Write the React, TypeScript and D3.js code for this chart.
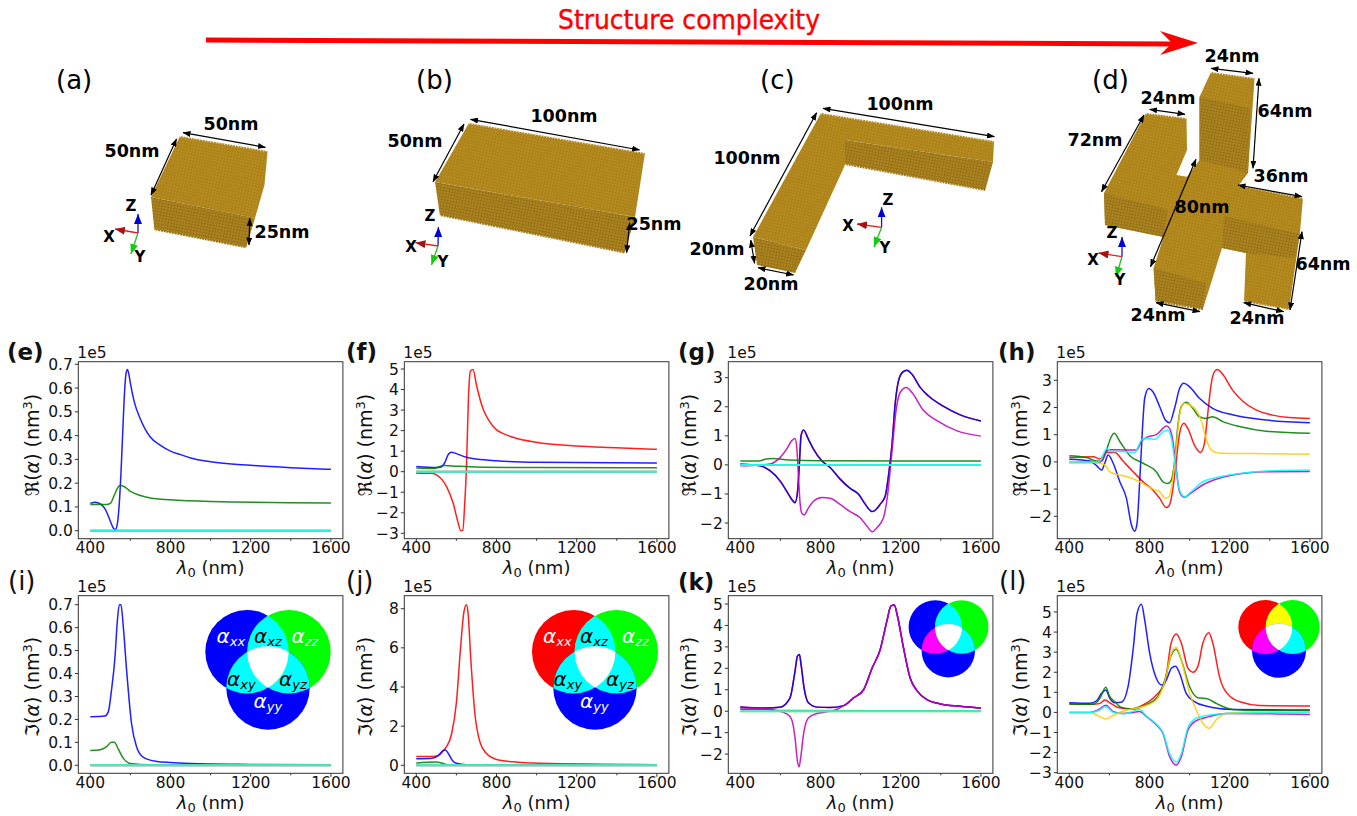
import React from "react";
import * as d3 from "d3";

type P = [number, number];
const FONT = "'DejaVu Sans', sans-serif";
const RED = "#ff0000", BLUE = "#0000ff", GREEN = "#008000", MAGENTA = "#c000c0", GOLD = "#ffcc00", CYAN = "#00ffff";

const flat: P[] = [[400, 0], [1600, 0]];
const xTicks = [400, 800, 1200, 1600];
const xMinor = [600, 1000, 1400];

// ---- (e)
const eBlue: P[] = [[400,.115],[425,.12],[450,.113],[475,.09],[500,.04],[515,.01],[525,.005],[535,.03],[545,.12],[555,.28],[565,.48],[572,.6],[578,.66],[585,.678],[592,.66],[600,.62],[620,.54],[648,.473],[698,.395],[748,.36],[800,.335],[850,.32],[900,.306],[1000,.29],[1200,.275],[1400,.265],[1600,.258]];
const eGreen: P[] = [[400,.11],[480,.11],[500,.115],[520,.15],[540,.185],[550,.19],[570,.185],[600,.165],[650,.148],[700,.138],[800,.13],[1000,.123],[1600,.117]];
// ---- (f)
const fRed: P[] = [[400,-.07],[480,-.08],[501,-.16],[551,-.73],[584,-1.54],[609,-2.5],[622,-2.87],[632,-2.84],[642,-1.46],[650,.16],[660,3.57],[670,4.9],[683,4.98],[700,4.22],[733,3.05],[760,2.52],[799,2.05],[840,1.83],[882,1.68],[998,1.43],[1197,1.25],[1396,1.17],[1600,1.09]];
const fBlue: P[] = [[400,.25],[500,.2],[520,.22],[540,.4],[560,.85],[575,.95],[600,.88],[650,.7],[700,.62],[800,.53],[1000,.46],[1600,.42]];
const fGreen: P[] = [[400,.18],[490,.16],[520,.27],[540,.3],[600,.27],[700,.23],[1000,.2],[1600,.19]];
// ---- (g)
const gBlue: P[] = [[400,.02],[498,-.03],[548,-.2],[598,-.55],[631,-.9],[656,-1.18],[673,-1.3],[685,-.95],[695,.08],[703,1.0],[715,1.2],[740,.88],[765,.54],[806,.14],[848,-.09],[898,-.49],[948,-.81],[990,-1.01],[1023,-1.35],[1056,-1.6],[1068,-1.58],[1098,-1.35],[1123,-1.07],[1139,-.38],[1156,.65],[1173,2.14],[1189,2.89],[1211,3.2],[1231,3.26],[1256,3.12],[1298,2.66],[1339,2.37],[1414,2.01],[1497,1.72],[1600,1.51]];
const gMagenta: P[] = [[400,-.03],[498,0],[548,.03],[598,.25],[631,.54],[656,.83],[673,.91],[681,.65],[690,-.38],[698,-1.3],[706,-1.65],[718,-1.72],[740,-1.48],[765,-1.25],[806,-1.12],[848,-1.15],[898,-1.36],[948,-1.61],[998,-1.82],[1031,-2.1],[1059,-2.3],[1081,-2.16],[1114,-1.82],[1134,-1.07],[1156,.43],[1178,1.93],[1198,2.5],[1228,2.66],[1256,2.49],[1314,1.87],[1381,1.52],[1481,1.17],[1600,.99]];
const gGreen: P[] = [[400,.13],[490,.13],[530,.2],[560,.22],[640,.17],[800,.14],[1600,.13]];
// ---- (h)
const hRed: P[] = [[400,.16],[519,.19],[553,.11],[586,.35],[627,.35],[668,.03],[718,-.36],[768,-.73],[817,-1.03],[851,-1.34],[884,-1.68],[900,-1.58],[917,-.97],[933,0],[950,1.05],[971,1.42],[991,1.23],[1024,.62],[1054,.35],[1074,.68],[1090,1.73],[1107,2.83],[1124,3.32],[1140,3.4],[1165,3.22],[1214,2.64],[1264,2.24],[1331,1.91],[1414,1.72],[1497,1.63],[1600,1.6]];
const hBlue: P[] = [[400,.1],[503,.03],[536,-.14],[561,-.3],[577,-.05],[594,.25],[619,-.05],[652,-.73],[685,-1.34],[710,-2.32],[726,-2.55],[738,-2.26],[751,-.73],[765,1.24],[776,2.34],[796,2.7],[817,2.58],[851,2.03],[879,1.54],[900,1.44],[925,1.97],[950,2.7],[971,2.89],[999,2.77],[1049,2.34],[1115,1.97],[1214,1.73],[1381,1.54],[1600,1.44]];
const hGreen: P[] = [[400,.23],[486,.16],[536,.03],[561,.03],[586,.44],[606,.87],[624,1.05],[652,.75],[702,.23],[768,-.05],[834,-.36],[867,-.73],[892,-.79],[909,-.67],[925,0],[942,1.36],[958,2.03],[983,2.19],[1016,1.97],[1049,1.66],[1082,1.6],[1115,1.66],[1165,1.48],[1248,1.3],[1381,1.13],[1600,1.05]];
const hGold: P[] = [[400,-.02],[519,-.02],[553,-.05],[577,-.11],[602,-.36],[627,-.44],[685,-.54],[751,-.73],[817,-1],[851,-1.1],[879,-1.34],[897,-1.28],[914,-.73],[933,.5],[950,1.73],[971,2.16],[999,2.1],[1032,1.91],[1057,1.54],[1082,.87],[1107,.44],[1148,.32],[1381,.3],[1600,.28]];
const hMagenta: P[] = [[400,-.02],[545,-.02],[565,.07],[586,.4],[611,.45],[668,.44],[735,.44],[760,.75],[785,.9],[834,1.0],[867,1.23],[884,1.32],[900,1.23],[917,.75],[933,-.24],[950,-1.1],[975,-1.3],[1007,-1.15],[1065,-.85],[1131,-.64],[1214,-.48],[1381,-.36],[1600,-.35]];
const hCyan: P[] = [[400,0],[530,0],[553,.03],[586,.48],[611,.38],[668,.38],[726,.35],[760,.8],[785,.87],[826,.83],[867,1.11],[889,1.17],[909,.87],[933,-.36],[950,-1.04],[975,-1.28],[1007,-1.1],[1065,-.73],[1131,-.58],[1214,-.46],[1381,-.33],[1600,-.3]];
// ---- (i)
const iBlue: P[] = [[400,.212],[473,.215],[490,.234],[506,.33],[523,.47],[535,.63],[545,.7],[553,.7],[565,.6],[581,.415],[606,.18],[631,.08],[665,.035],[731,.017],[798,.012],[900,.008],[1200,.004],[1600,.002]];
const iGreen: P[] = [[400,.065],[450,.068],[480,.08],[505,.1],[520,.1],[540,.07],[565,.03],[600,.008],[700,.002],[1600,0]];
// ---- (j)
const jRed: P[] = [[400,.45],[480,.45],[510,.5],[535,.75],[551,.95],[576,1.6],[600,3.2],[620,5.9],[637,7.8],[650,8.2],[658,7.8],[672,5.4],[692,2.66],[717,1.2],[750,.6],[800,.3],[882,.18],[1015,.1],[1600,.03]];
const jBlue: P[] = [[400,.33],[480,.36],[510,.5],[530,.72],[545,.78],[560,.6],[580,.25],[600,.1],[650,.03],[1600,.01]];
const jGreen: P[] = [[400,.12],[500,.17],[530,.1],[560,.02],[1600,0]];
// ---- (k)
const kBlue: P[] = [[400,.2],[531,.15],[598,.18],[648,.62],[673,1.87],[685,2.57],[695,2.65],[703,2.18],[718,1.09],[740,.39],[782,.19],[848,.17],[915,.26],[965,.62],[1015,1.0],[1057,2.0],[1098,2.88],[1131,4.2],[1151,4.9],[1168,4.95],[1184,4.43],[1214,2.95],[1247,1.55],[1281,.96],[1331,.54],[1397,.34],[1497,.23],[1600,.14]];
const kMagenta: P[] = [[400,.15],[531,.12],[581,.03],[631,-.12],[656,-.39],[673,-1.24],[685,-2.33],[693,-2.6],[701,-2.18],[715,-1.09],[740,-.31],[782,-.11],[832,-.03],[881,.08],[931,.36],[965,.62],[1015,1.0],[1057,2.0],[1098,2.88],[1131,4.2],[1151,4.9],[1168,4.95],[1184,4.43],[1214,2.95],[1247,1.55],[1281,.96],[1331,.54],[1397,.34],[1497,.23],[1600,.14]];
const kGreen: P[] = [[400,.08],[500,.08],[600,.03],[1600,.02]];
// ---- (l)
const lRed: P[] = [[400,.42],[519,.4],[553,.45],[577,.62],[611,.42],[644,.24],[702,.17],[768,.37],[834,.87],[876,1.45],[909,3.5],[934,3.9],[959,3.44],[992,2.2],[1017,2.0],[1041,2.28],[1066,3.44],[1096,3.97],[1116,3.44],[1149,1.78],[1199,.82],[1265,.49],[1348,.34],[1600,.32]];
const lBlue: P[] = [[400,.48],[503,.45],[536,.58],[561,.95],[582,1.11],[602,.7],[627,.48],[660,.5],[693,1.28],[718,3.1],[738,4.93],[760,5.38],[776,4.6],[801,2.94],[834,1.7],[862,1.36],[884,1.61],[909,2.2],[930,2.3],[950,1.95],[983,.95],[1024,.54],[1082,.32],[1214,.15],[1600,.12]];
const lGreen: P[] = [[400,.42],[519,.4],[553,.7],[582,1.25],[602,.78],[627,.54],[660,.25],[718,.17],[768,.32],[834,.7],[876,1.6],[909,2.86],[934,3.14],[959,2.6],[1000,1.28],[1041,.73],[1091,.67],[1132,.45],[1215,.15],[1381,.09],[1600,.09]];
const lGold: P[] = [[400,0],[503,0],[536,-.13],[582,-.33],[619,-.16],[644,-.03],[702,.15],[768,.29],[834,.62],[876,1.53],[909,2.94],[934,3.24],[959,2.6],[1000,.95],[1033,.12],[1066,-.54],[1099,-.79],[1132,-.38],[1182,-.05],[1248,0],[1600,.03]];
const lMagenta: P[] = [[400,0],[503,0],[544,.12],[582,.35],[619,.04],[668,-.05],[718,0],[751,.04],[784,-.2],[834,-.62],[867,-1.04],[900,-2.2],[934,-2.62],[959,-2.2],[992,-.87],[1033,-.41],[1099,-.21],[1182,-.05],[1600,-.1]];
const lCyan: P[] = [[400,0],[503,0],[544,.08],[582,.29],[619,.0],[668,-.07],[718,.05],[751,.15],[784,-.18],[834,-.58],[867,-1.0],[900,-2.05],[934,-2.48],[959,-2.05],[992,-.75],[1033,-.29],[1099,-.13],[1182,-.05],[1600,-.01]];

type S = { c: string; d: P[] };
type Panel = {
  tag: string; bold: boolean; tagX: number; left: number; row: 0 | 1; yLabelX: number;
  y0: [number, number]; y1: [number, number]; yTicks: number[]; fmt: (v: number) => string; series: S[];
};

const f1 = (v: number) => d3.format(".1f")(v);
const f0 = (v: number) => String(v);

const panels: Panel[] = [
  { tag: "(e)", bold: true, tagX: 7, left: 78.3, row: 0, yLabelX: 39, y0: [0, 530.7], y1: [.7, 364.3], yTicks: [0,.1,.2,.3,.4,.5,.6,.7], fmt: f1,
    series: [{c:BLUE,d:eBlue},{c:GREEN,d:eGreen},{c:MAGENTA,d:flat},{c:GOLD,d:flat},{c:CYAN,d:flat}] },
  { tag: "(f)", bold: true, tagX: 346, left: 404.3, row: 0, yLabelX: 372, y0: [0, 471.7], y1: [5, 369], yTicks: [-3,-2,-1,0,1,2,3,4,5], fmt: f0,
    series: [{c:RED,d:fRed},{c:BLUE,d:fBlue},{c:GREEN,d:fGreen},{c:MAGENTA,d:flat},{c:GOLD,d:flat},{c:CYAN,d:flat}] },
  { tag: "(g)", bold: true, tagX: 678, left: 728.3, row: 0, yLabelX: 696, y0: [0, 464.9], y1: [3, 377.7], yTicks: [-2,-1,0,1,2,3], fmt: f0,
    series: [{c:RED,d:gBlue},{c:BLUE,d:gBlue},{c:GREEN,d:gGreen},{c:MAGENTA,d:gMagenta},{c:GOLD,d:flat},{c:CYAN,d:flat}] },
  { tag: "(h)", bold: true, tagX: 998, left: 1057.3, row: 0, yLabelX: 1027, y0: [0, 461.9], y1: [3, 380.3], yTicks: [-2,-1,0,1,2,3], fmt: f0,
    series: [{c:RED,d:hRed},{c:BLUE,d:hBlue},{c:GREEN,d:hGreen},{c:MAGENTA,d:hMagenta},{c:GOLD,d:hGold},{c:CYAN,d:hCyan}] },
  { tag: "(i)", bold: false, tagX: 8, left: 78.3, row: 1, yLabelX: 39, y0: [0, 765.3], y1: [.7, 604.7], yTicks: [0,.1,.2,.3,.4,.5,.6,.7], fmt: f1,
    series: [{c:BLUE,d:iBlue},{c:GREEN,d:iGreen},{c:MAGENTA,d:flat},{c:GOLD,d:flat},{c:CYAN,d:flat}] },
  { tag: "(j)", bold: false, tagX: 346, left: 404.3, row: 1, yLabelX: 372, y0: [0, 765.3], y1: [8, 608.7], yTicks: [0,2,4,6,8], fmt: f0,
    series: [{c:RED,d:jRed},{c:BLUE,d:jBlue},{c:GREEN,d:jGreen},{c:MAGENTA,d:flat},{c:GOLD,d:flat},{c:CYAN,d:flat}] },
  { tag: "(k)", bold: true, tagX: 678, left: 728.3, row: 1, yLabelX: 696, y0: [0, 711.2], y1: [5, 604], yTicks: [-2,-1,0,1,2,3,4,5], fmt: f0,
    series: [{c:RED,d:kBlue},{c:BLUE,d:kBlue},{c:GREEN,d:kGreen},{c:MAGENTA,d:kMagenta},{c:GOLD,d:flat},{c:CYAN,d:flat}] },
  { tag: "(l)", bold: false, tagX: 999, left: 1057.3, row: 1, yLabelX: 1027, y0: [0, 712.4], y1: [5, 612], yTicks: [-3,-2,-1,0,1,2,3,4,5], fmt: f0,
    series: [{c:RED,d:lRed},{c:BLUE,d:lBlue},{c:GREEN,d:lGreen},{c:MAGENTA,d:lMagenta},{c:GOLD,d:lGold},{c:CYAN,d:lCyan}] },
];

const ROWS = [{ top: 361.7, bottom: 538.7 }, { top: 595.7, bottom: 773.3 }];
const ROW_TEXT = [
  { tagY: 360, tick: 553, xlab: 574, ylab: 445 },
  { tagY: 590, tick: 788, xlab: 808.5, ylab: 687 },
];
const W = 264.6;
const TICK = 15.5;

function Axes({ p }: { p: Panel }) {
  const { top, bottom } = ROWS[p.row];
  const t = ROW_TEXT[p.row];
  const x = d3.scaleLinear().domain([400, 1600]).range([p.left + 12, p.left + W - 12]);
  const y = d3.scaleLinear().domain([p.y0[0], p.y1[0]]).range([p.y0[1], p.y1[1]]);
  const line = d3.line<P>().x(d => x(d[0])).y(d => y(d[1])).curve(d3.curveMonotoneX);
  const cx = p.left + W / 2;
  const fn = p.row === 0 ? "\u211C" : "\u2111";
  return (
    <g fontFamily={FONT} fill="#111">
      <text x={p.tagX} y={t.tagY} fontSize={p.bold ? 23 : 26} fontWeight={p.bold ? 700 : 400}>{p.tag}</text>
      <text x={p.left - 1} y={top - 3.5} fontSize={TICK}>1e5</text>
      <rect x={p.left} y={top} width={W} height={bottom - top} fill="none" stroke="#333" strokeWidth={1} />
      {p.series.map((s, i) => (
        <path key={i} d={line(s.d) || ""} fill="none" stroke={s.c} strokeWidth={s.d === flat ? 2 : 1.5} strokeOpacity={0.88} strokeLinejoin="round" />
      ))}
      {xTicks.map(v => (
        <g key={v}>
          <line x1={x(v)} x2={x(v)} y1={bottom} y2={bottom + 3.5} stroke="#333" />
          <text x={x(v)} y={t.tick} textAnchor="middle" fontSize={TICK}>{v}</text>
        </g>
      ))}
      {xMinor.map(v => <line key={v} x1={x(v)} x2={x(v)} y1={bottom} y2={bottom + 2} stroke="#333" />)}
      {p.yTicks.map(v => (
        <g key={v}>
          <line x1={p.left - 3.5} x2={p.left} y1={y(v)} y2={y(v)} stroke="#333" />
          <text x={p.left - 5.5} y={y(v) + 5.5} textAnchor="end" fontSize={TICK}>
            {v < 0 ? "\u2212" + p.fmt(-v) : p.fmt(v)}
          </text>
        </g>
      ))}
      <text x={cx} y={t.xlab} textAnchor="middle" fontSize={18}>
        <tspan fontStyle="italic">{"\u03BB"}</tspan>
        <tspan fontSize={13} dy={3}>0</tspan>
        <tspan dy={-3}> (nm)</tspan>
      </text>
      <text transform={`translate(${p.yLabelX},${t.ylab}) rotate(-90)`} textAnchor="middle" fontSize={19}>
        {fn}(<tspan fontStyle="italic">{"\u03B1"}</tspan>) (nm<tspan fontSize={13} dy={-7}>3</tspan><tspan dy={7}>)</tspan>
      </text>
    </g>
  );
}

// ---- Venn insets
type Venn = { id: string; a: P; b: P; c: P; r: number; colors: string[]; labels?: { s: string; x: number; y: number; c: string }[] };
const venns: Venn[] = [
  { id: "vi", a: [247, 651.7], b: [289, 651.7], c: [268, 688], r: 41.7, colors: ["#0000ff", "#00ff00", "#0000ff", "#00ffff", "#00ffff", "#00ffff"],
    labels: [{ s: "xx", x: 216.5, y: 643, c: "#fff" }, { s: "xz", x: 254, y: 643, c: "#000" }, { s: "zz", x: 291.5, y: 643, c: "#fff" },
             { s: "xy", x: 227, y: 685.5, c: "#000" }, { s: "yz", x: 279, y: 685.5, c: "#000" }, { s: "yy", x: 253.5, y: 708, c: "#fff" }] },
  { id: "vj", a: [573.7, 651.7], b: [616.3, 651.7], c: [595, 688], r: 41.7, colors: ["#ff0000", "#00ff00", "#0000ff", "#00ffff", "#00ffff", "#00ffff"],
    labels: [{ s: "xx", x: 543, y: 643, c: "#fff" }, { s: "xz", x: 580, y: 643, c: "#000" }, { s: "zz", x: 622, y: 643, c: "#fff" },
             { s: "xy", x: 553.5, y: 685.5, c: "#000" }, { s: "yz", x: 606, y: 685.5, c: "#000" }, { s: "yy", x: 580, y: 708, c: "#fff" }] },
  { id: "vk", a: [935.3, 627], b: [961.7, 627], c: [948.3, 650.7], r: 26.7, colors: ["#0000ff", "#00ff00", "#0000ff", "#00ffff", "#ff00ff", "#00ffff"] },
  { id: "vl", a: [1265.3, 627], b: [1292.7, 627], c: [1279, 650.7], r: 27, colors: ["#ff0000", "#00ff00", "#0000ff", "#ffff00", "#ff00ff", "#00ffff"] },
];

function VennInset({ v }: { v: Venn }) {
  const [A, B, C, AB, AC, BC] = v.colors;
  const circ = (k: P, fill?: string, clip?: string) => <circle cx={k[0]} cy={k[1]} r={v.r} fill={fill} clipPath={clip ? `url(#${clip})` : undefined} />;
  return (
    <g>
      <defs>
        <clipPath id={v.id + "a"}>{circ(v.a)}</clipPath>
        <clipPath id={v.id + "b"}>{circ(v.b)}</clipPath>
        <clipPath id={v.id + "c"}>{circ(v.c)}</clipPath>
      </defs>
      {circ(v.a, A)}
      {circ(v.b, B)}
      {circ(v.c, C)}
      {circ(v.a, AB, v.id + "b")}
      {circ(v.a, AC, v.id + "c")}
      {circ(v.b, BC, v.id + "c")}
      <g clipPath={`url(#${v.id}c)`}>{circ(v.a, "#ffffff", v.id + "b")}</g>
      {v.labels?.map(l => (
        <text key={l.s} x={l.x} y={l.y} fill={l.c} fontFamily={FONT} fontStyle="italic" fontSize={20}>
          {"\u03B1"}<tspan fontSize={13} dy={3}>{l.s}</tspan>
        </text>
      ))}
    </g>
  );
}

// ---- 3D structures (illustration geometry)
const topFaces: P[][] = [
  [[180,136],[267.6,151],[264.5,185],[255,218],[151,197]],
  [[469,123],[645,153],[635,217],[435,182]],
  [[821,113],[994,141],[993,162],[845,140],[845,165],[806,250],[753,237]],
  [[1146,113],[1186.5,118],[1187,150],[1176.5,175],[1187,176.7],[1199.5,160],[1199.5,97],[1211,72],[1254.6,78],[1248,173],[1239,185],[1303,198],[1300,232],[1289,310],[1244,302],[1246,253],[1222,248],[1202.6,310],[1155.7,302],[1153.6,268],[1163.5,237],[1105,225],[1104,193]],
];
const sideFaces: P[][] = [
  [[151,197],[255,218],[246,248.3],[154.4,230.3]],
  [[435,182],[635,217],[624.5,253.5],[440,216]],
  [[845,140],[993,162],[985,191],[845,165]],
  [[753,237],[806,250],[795,273],[757,265]],
  [[1104,193],[1168,210],[1163.5,237],[1105,225]],
  [[1199.5,97],[1250,108],[1248,173],[1199.5,160]],
  [[1224,216],[1300,234],[1295,258],[1246,253],[1222,248]],
  [[1153.6,268],[1206,283],[1202.6,310],[1155.7,302]],
];
const combEdges: P[][] = [
  [[180,136],[267.6,151]], [[469,123],[645,153]], [[821,113],[994,141]],
  [[1146,113],[1186.5,118]], [[1211,72],[1254.6,78]], [[1239,185],[1303,198]],
  [[154.4,230.3],[246,248.3]], [[440,216],[624.5,253.5]], [[845,165],[985,191]], [[1155.7,302],[1202.6,310]], [[1244,302],[1289,310]],
];
const dimArrows: [P, P][] = [
  [[176.5,139],[151,195]], [[183,132.7],[265.4,147.3]], [[249.8,218.3],[249,245]],
  [[464,124],[433,181.7]], [[470.5,119.3],[639.6,150]], [[629.7,222.7],[626.6,252.7]],
  [[816.6,112.7],[750,236]], [[823,108.3],[994.4,136.7]], [[750.7,240],[754.6,263.3]], [[758,267.7],[793.6,275]],
  [[1211,68.3],[1253,73.3]], [[1149.6,109.3],[1185,114.3]], [[1259,78.3],[1253,168.3]], [[1144,115],[1101.5,191.7]],
  [[1238,185],[1302,196.7]], [[1196,159.3],[1150.5,266.7]], [[1302,231.7],[1290,310]], [[1156,302.7],[1200,311.7]], [[1243.7,302.7],[1283.6,311.7]],
];
const dimLabels: [string, number, number][] = [
  ["50nm",231,130],["50nm",132,157],["25nm",282,238],
  ["100nm",564,122],["50nm",415,147],["25nm",654,230],
  ["100nm",900,110],["100nm",747,164],["20nm",717,255],["20nm",771,290],
  ["24nm",1232,62],["24nm",1168,104],["64nm",1285,117],["72nm",1095,146],["36nm",1281,182],["80nm",1202,213],["64nm",1323,270],["24nm",1158,321],["24nm",1257,324],
];
const panelTags: [string, number][] = [["(a)",56],["(b)",416],["(c)",760],["(d)",1092]];
type Triad = { o: P; z: P; x: P; y: P; lz: P; lx: P; ly: P };
const triads: Triad[] = [
  { o:[138,233], z:[138,214], x:[115,229], y:[131,254], lz:[131,211], lx:[109,242], ly:[140,262] },
  { o:[438,246], z:[438.4,227], x:[415.4,242.7], y:[431.5,265], lz:[430,221], lx:[411,252], ly:[443,267] },
  { o:[881.6,227.3], z:[881.6,207.3], x:[857,224], y:[874,247], lz:[888,205], lx:[848,231], ly:[885,253] },
  { o:[1122,256.7], z:[1122,237], x:[1098.5,253], y:[1116,276.7], lz:[1112,238], lx:[1093,265], ly:[1120,285] },
];
const pts = (p: P[]) => p.map(d => d.join(",")).join(" ");

function Structures() {
  return (
    <g fontFamily={FONT}>
      <defs>
        <pattern id="gridTop" width={3} height={3} patternUnits="userSpaceOnUse" patternTransform="rotate(12)">
          <rect width={3} height={3} fill="#B68B1F" />
          <path d="M0 0H3M0 0V3" stroke="#9E7714" strokeWidth={0.7} />
        </pattern>
        <pattern id="gridSide" width={3} height={3} patternUnits="userSpaceOnUse" patternTransform="rotate(11)">
          <rect width={3} height={3} fill="#AE8420" />
          <path d="M0 0H3M0 0V3" stroke="#806210" strokeWidth={0.8} />
        </pattern>
        <marker id="dimHead" viewBox="0 0 8 6" refX={7.5} refY={3} markerWidth={8} markerHeight={6} markerUnits="userSpaceOnUse" orient="auto-start-reverse">
          <path d="M0 0L8 3L0 6Z" fill="#000" />
        </marker>
        {[["hz","#0000d8"],["hx","#a80f0f"],["hy","#12cc12"]].map(([id,c]) => (
          <marker key={id} id={id} viewBox="0 0 10 8" refX={10} refY={4} markerWidth={10} markerHeight={8} markerUnits="userSpaceOnUse" orient="auto">
            <path d="M0 0L10 4L0 8Z" fill={c} />
          </marker>
        ))}
      </defs>
      {topFaces.map((f, i) => <polygon key={i} points={pts(f)} fill="url(#gridTop)" />)}
      {sideFaces.map((f, i) => <polygon key={i} points={pts(f)} fill="url(#gridSide)" />)}
      {combEdges.map((e, i) => (
        <polyline key={i} points={pts(e)} fill="none" stroke="#fff" strokeOpacity={0.75} strokeWidth={2.6} strokeDasharray="1 1.8" />
      ))}
      {dimArrows.map(([a, b], i) => (
        <line key={i} x1={a[0]} y1={a[1]} x2={b[0]} y2={b[1]} stroke="#000" strokeWidth={1.2} markerStart="url(#dimHead)" markerEnd="url(#dimHead)" />
      ))}
      {dimLabels.map(([s, x, y], i) => (
        <text key={i} x={x} y={y} textAnchor="middle" fontSize={17.5} fontWeight={700} fill="#000">{s}</text>
      ))}
      {panelTags.map(([s, x]) => <text key={s} x={x} y={89} fontSize={26} fill="#000">{s}</text>)}
      {triads.map((t, i) => (
        <g key={i}>
          <line x1={t.o[0]} y1={t.o[1]} x2={t.z[0]} y2={t.z[1]} stroke="#1010e0" strokeWidth={1.3} markerEnd="url(#hz)" />
          <line x1={t.o[0]} y1={t.o[1]} x2={t.x[0]} y2={t.x[1]} stroke="#e02020" strokeWidth={1.3} markerEnd="url(#hx)" />
          <line x1={t.o[0]} y1={t.o[1]} x2={t.y[0]} y2={t.y[1]} stroke="#20c020" strokeWidth={1.3} markerEnd="url(#hy)" />
          <text x={t.lz[0]} y={t.lz[1]} textAnchor="middle" fontSize={15} fontWeight={700} fill="#000">Z</text>
          <text x={t.lx[0]} y={t.lx[1]} textAnchor="middle" fontSize={15} fontWeight={700} fill="#000">X</text>
          <text x={t.ly[0]} y={t.ly[1]} textAnchor="middle" fontSize={15} fontWeight={700} fill="#000">Y</text>
        </g>
      ))}
    </g>
  );
}

const arrowLine: [P, P] = [[206, 40], [1172, 44]];
const arrowHead: P[] = [[1160, 31], [1198, 43], [1160, 55], [1172, 43]];

export default function App() {
  return (
    <svg width={1357} height={816} style={{ position: "absolute", left: 0, top: 0, background: "#fff" }}>
      <text x={558} y={29} fontFamily={FONT} fontSize={26} stroke="#ff0000" strokeWidth={0.4} fill="#ff0000" textLength={262} lengthAdjust="spacingAndGlyphs">Structure complexity</text>
      <line x1={arrowLine[0][0]} y1={arrowLine[0][1]} x2={arrowLine[1][0]} y2={arrowLine[1][1]} stroke="#ff0000" strokeWidth={5} />
      <polygon points={pts(arrowHead)} fill="#ff0000" />
      <Structures />
      {panels.map(p => <Axes key={p.tag} p={p} />)}
      {venns.map(v => <VennInset key={v.id} v={v} />)}
    </svg>
  );
}
